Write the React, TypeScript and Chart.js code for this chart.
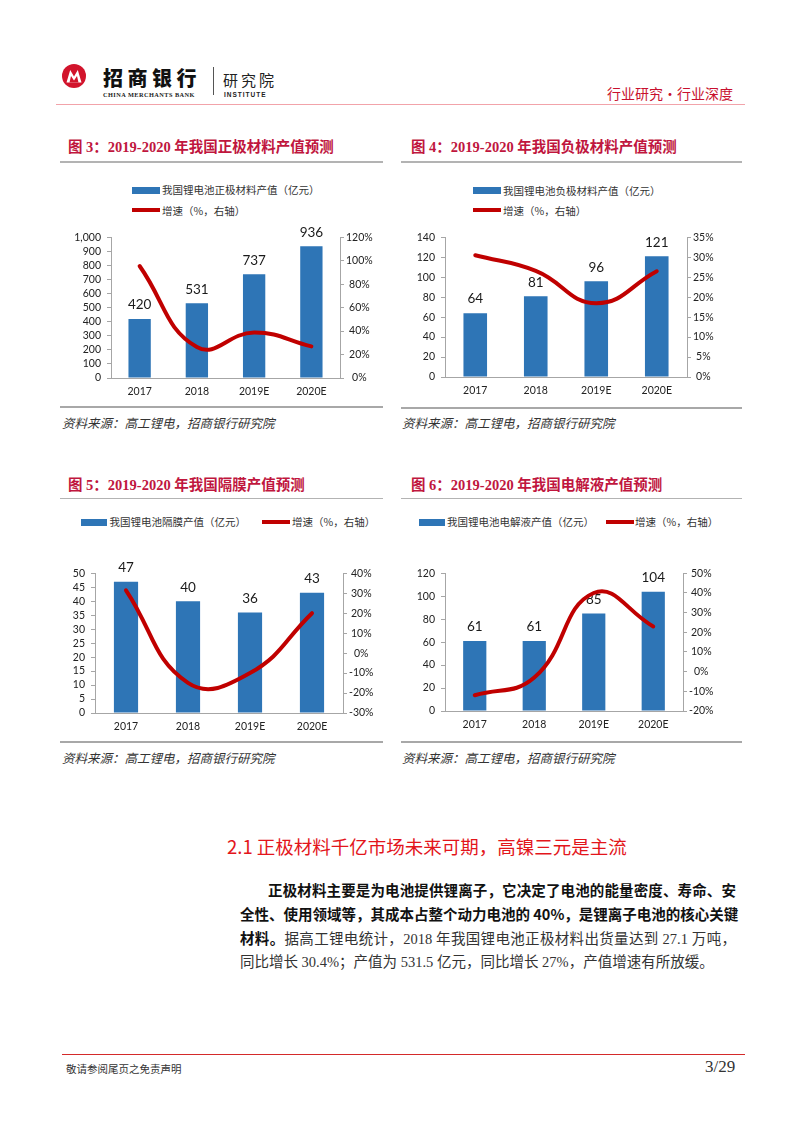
import React, { useEffect, useRef } from 'react';
import { Chart, registerables } from 'chart.js';

Chart.register(...registerables);

// ---------- data ----------
const years = ['2017', '2018', '2019E', '2020E'];

const cathodeValue = [420, 531, 737, 936];
const cathodeGrowth = [95.5, 26.4, 38.8, 27.0];
const anodeValue = [64, 81, 96, 121];
const anodeGrowth = [30.5, 26.6, 18.5, 26.5];
const separatorValue = [47, 40, 36, 43];
const separatorGrowth = [31.5, -14.9, -10.0, 20.0];
const electrolyteValue = [61, 61, 85, 104];
const electrolyteGrowth = [-12.0, -3.0, 40.0, 23.0];

// axis ranges: [min, max, step]
const cathodeLeftAxis = [0, 1000, 100];
const cathodeRightAxis = [0, 120, 20];
const anodeLeftAxis = [0, 140, 20];
const anodeRightAxis = [0, 35, 5];
const separatorLeftAxis = [0, 50, 5];
const separatorRightAxis = [-30, 40, 10];
const electrolyteLeftAxis = [0, 120, 20];
const electrolyteRightAxis = [-20, 50, 10];

const BLUE = '#2e75b6';
const RED_LINE = '#c00000';
const AXIS = '#a6a6a6';
const TICK_FONT = { family: 'Lato', size: 10.5 };

const barLabelPlugin = {
  id: 'barLabels',
  afterDatasetDraw(chart: any, args: any) {
    if (args.index !== 0) return;
    const ctx = chart.ctx;
    const ds = chart.data.datasets[0];
    ctx.save();
    ctx.font = '13.5px Lato';
    ctx.fillStyle = '#1a1a1a';
    ctx.textAlign = 'center';
    ctx.textBaseline = 'middle';
    args.meta.data.forEach((el: any, i: number) => {
      ctx.fillText(String(ds.data[i]), el.x, el.y - 14);
    });
    ctx.restore();
  },
};

type Box = { left: number; top: number; width: number; height: number; leftW: number; rightW: number; padTop: number; xH: number };

function ComboChart(props: { values: number[]; growth: number[]; leftAxis: number[]; rightAxis: number[]; box: Box; thousands?: boolean }) {
  const ref = useRef<HTMLCanvasElement | null>(null);
  const { values, growth, leftAxis, rightAxis, box, thousands } = props;
  useEffect(() => {
    if (!ref.current) return;
    const chart = new Chart(ref.current, {
      type: 'bar',
      data: {
        labels: years,
        datasets: [
          {
            type: 'bar',
            data: values,
            backgroundColor: BLUE,
            barPercentage: 0.39,
            categoryPercentage: 1,
            yAxisID: 'y',
            order: 2,
          } as any,
          {
            type: 'line',
            data: growth,
            borderColor: RED_LINE,
            borderWidth: 4,
            pointRadius: 0,
            tension: 0.45,
            yAxisID: 'y1',
            order: 1,
            borderCapStyle: 'round',
            clip: false,
          } as any,
        ],
      },
      options: {
        responsive: false,
        maintainAspectRatio: false,
        animation: false,
        devicePixelRatio: 1,
        layout: { padding: { top: box.padTop, left: 0, right: 0, bottom: 0 } },
        plugins: { legend: { display: false }, tooltip: { enabled: false } },
        scales: {
          x: {
            offset: true,
            grid: { display: false, drawTicks: false },
            border: { display: true, color: AXIS, width: 1 },
            ticks: { padding: 7, color: '#222', font: TICK_FONT, autoSkip: false, maxRotation: 0 },
            afterFit: (s: any) => { s.height = box.xH; },
          },
          y: {
            position: 'left',
            min: leftAxis[0],
            max: leftAxis[1],
            grid: { drawOnChartArea: false, drawTicks: true, tickLength: 4, color: AXIS },
            border: { display: true, color: AXIS, width: 1 },
            ticks: {
              stepSize: leftAxis[2],
              padding: 6,
              autoSkip: false,
              color: '#222',
              font: TICK_FONT,
              callback: (v: any) => (thousands ? Number(v).toLocaleString('en-US') : String(v)),
            },
            afterFit: (s: any) => { s.width = box.leftW; },
          },
          y1: {
            position: 'right',
            min: rightAxis[0],
            max: rightAxis[1],
            grid: { drawOnChartArea: false, drawTicks: true, tickLength: 4, color: AXIS },
            border: { display: true, color: AXIS, width: 1 },
            ticks: {
              stepSize: rightAxis[2],
              padding: 2,
              autoSkip: false,
              crossAlign: 'center',
              color: '#222',
              font: TICK_FONT,
              callback: (v: any) => v + '%',
            },
            afterFit: (s: any) => { s.width = box.rightW; },
          },
        },
      } as any,
      plugins: [barLabelPlugin],
    });
    return () => chart.destroy();
  }, []);
  return (
    <canvas
      ref={ref}
      width={box.width}
      height={box.height}
      style={{ position: 'absolute', left: box.left, top: box.top, width: box.width, height: box.height }}
    />
  );
}

const CJK_SANS = '"Noto Sans CJK SC", "Noto Sans", sans-serif';
const SERIF_CJK = '"Liberation Serif", "Noto Sans CJK SC", serif';

function T(p: { x: number; y: number; size: number; lh?: number; children: any; style?: any }) {
  const lh = p.lh ?? Math.round(p.size * 1.4);
  return (
    <div
      style={{
        position: 'absolute',
        left: p.x,
        top: p.y - lh / 2,
        fontSize: p.size,
        lineHeight: lh + 'px',
        whiteSpace: 'nowrap',
        fontFamily: CJK_SANS,
        ...p.style,
      }}
    >
      {p.children}
    </div>
  );
}

function Rect(p: { x: number; y: number; w: number; h: number; c: string }) {
  return <div style={{ position: 'absolute', left: p.x, top: p.y, width: p.w, height: p.h, background: p.c }} />;
}

const TITLE_COLOR = '#c0163e';

function Panel(p: {
  colX: number; colW: number; titleX: number; titleY: number; title: string;
  titleLineY: number; bottomLineY: number; sourceX: number; sourceY: number;
}) {
  return (
    <>
      <T x={p.titleX} y={p.titleY} size={14.5} style={{ fontFamily: SERIF_CJK, fontWeight: 700, color: TITLE_COLOR }}>
        {p.title}
      </T>
      <Rect x={p.colX} y={p.titleLineY} w={p.colW} h={1.5} c="#b3b3b3" />
      <Rect x={p.colX} y={p.bottomLineY} w={p.colW} h={1.5} c="#a8a8a8" />
      <T x={p.sourceX} y={p.sourceY} size={12.5} style={{ fontStyle: 'italic', color: '#333' }}>
        资料来源：高工锂电，招商银行研究院
      </T>
    </>
  );
}

const legendTextStyle = { color: '#333' };

export default function App() {
  useEffect(() => {
    document.body.style.margin = '0';
  }, []);
  return (
    <div style={{ position: 'absolute', left: 0, top: 0, width: 802, height: 1133, background: '#fff', overflow: 'hidden' }}>
      {/* header */}
      <svg style={{ position: 'absolute', left: 62, top: 64 }} width={24} height={24} viewBox="0 0 24 24">
        <circle cx={12} cy={12} r={12} fill="#d2142c" />
        <path d="M4.5 18.5 L8.2 6 L12 12.5 L15.8 6 L19.5 18.5 Z" fill="#fff" />
        <path d="M7.5 18.5 L9 12 L12 16.5 L15 12 L16.5 18.5 Z" fill="#d2142c" />
      </svg>
      <T x={103} y={78} size={20} lh={26} style={{ fontWeight: 900, letterSpacing: 4.5, color: '#111' }}>招商银行</T>
      <T x={103} y={94.7} size={6.3} lh={8} style={{ fontFamily: '"Liberation Serif", serif', fontWeight: 700, letterSpacing: 0.45, color: '#222' }}>
        CHINA MERCHANTS BANK
      </T>
      <Rect x={213} y={67} w={1} h={28} c="#555" />
      <T x={223} y={80} size={15} lh={20} style={{ letterSpacing: 3, color: '#222' }}>研究院</T>
      <T x={224} y={94.7} size={6.5} lh={8} style={{ fontFamily: '"Liberation Sans", sans-serif', fontWeight: 700, letterSpacing: 1.0, color: '#222' }}>
        INSTITUTE
      </T>
      <T x={607} y={92.5} size={14} lh={20} style={{ color: '#c8102e' }}>行业研究·行业深度</T>
      <Rect x={56} y={103.5} w={689} h={1.5} c="#f2a3aa" />

      {/* Figure 3 */}
      <Panel colX={60} colW={323} titleX={68} titleY={146.7} title="图 3：2019-2020 年我国正极材料产值预测"
        titleLineY={161} bottomLineY={406} sourceX={62} sourceY={423.3} />
      <Rect x={132} y={186.5} w={28} h={7} c={BLUE} />
      <T x={162} y={189.5} size={10.5} style={legendTextStyle}>我国锂电池正极材料产值（亿元）</T>
      <Rect x={132} y={208} w={28} h={4} c={RED_LINE} />
      <T x={162} y={210} size={10.5} style={legendTextStyle}>增速（%，右轴）</T>
      <ComboChart values={cathodeValue} growth={cathodeGrowth} leftAxis={cathodeLeftAxis} rightAxis={cathodeRightAxis} thousands
        box={{ left: 60, top: 225, width: 330, height: 180, leftW: 51, rightW: 50, padTop: 8, xH: 27 }} />

      {/* Figure 4 */}
      <Panel colX={401} colW={341} titleX={411} titleY={146.7} title="图 4：2019-2020 年我国负极材料产值预测"
        titleLineY={161} bottomLineY={407} sourceX={402} sourceY={423.3} />
      <Rect x={473} y={186.5} w={28} h={7} c={BLUE} />
      <T x={503} y={190} size={10.5} style={legendTextStyle}>我国锂电池负极材料产值（亿元）</T>
      <Rect x={473} y={208} w={28} h={4} c={RED_LINE} />
      <T x={503} y={210} size={10.5} style={legendTextStyle}>增速（%，右轴）</T>
      <ComboChart values={anodeValue} growth={anodeGrowth} leftAxis={anodeLeftAxis} rightAxis={anodeRightAxis}
        box={{ left: 400, top: 225, width: 340, height: 180, leftW: 45, rightW: 53, padTop: 9, xH: 28 }} />

      {/* Figure 5 */}
      <Panel colX={60} colW={323} titleX={68} titleY={485} title="图 5：2019-2020 年我国隔膜产值预测"
        titleLineY={497.5} bottomLineY={741} sourceX={62} sourceY={758.3} />
      <Rect x={81} y={518.5} w={26} h={7} c={BLUE} />
      <T x={109.5} y={521.7} size={10.5} style={legendTextStyle}>我国锂电池隔膜产值（亿元）</T>
      <Rect x={262} y={520} w={28} h={4} c={RED_LINE} />
      <T x={292} y={521.7} size={10.5} style={legendTextStyle}>增速（%，右轴）</T>
      <ComboChart values={separatorValue} growth={separatorGrowth} leftAxis={separatorLeftAxis} rightAxis={separatorRightAxis}
        box={{ left: 60, top: 561, width: 330, height: 180, leftW: 35, rightW: 47, padTop: 8, xH: 28 }} />

      {/* Figure 6 */}
      <Panel colX={401} colW={341} titleX={411} titleY={485} title="图 6：2019-2020 年我国电解液产值预测"
        titleLineY={497.5} bottomLineY={741} sourceX={402} sourceY={758.3} />
      <Rect x={418.5} y={518.5} w={26} h={7} c={BLUE} />
      <T x={447} y={521.7} size={10.5} style={legendTextStyle}>我国锂电池电解液产值（亿元）</T>
      <Rect x={606} y={520} w={28} h={4} c={RED_LINE} />
      <T x={635} y={521.7} size={10.5} style={legendTextStyle}>增速（%，右轴）</T>
      <ComboChart values={electrolyteValue} growth={electrolyteGrowth} leftAxis={electrolyteLeftAxis} rightAxis={electrolyteRightAxis}
        box={{ left: 400, top: 561, width: 340, height: 180, leftW: 45, rightW: 57, padTop: 8, xH: 30 }} />

      {/* section heading */}
      <T x={227} y={846} size={18.5} lh={26} style={{ color: '#e3151b' }}>2.1 正极材料千亿市场未来可期，高镍三元是主流</T>

      {/* paragraph */}
      {[
        { y: 889.5, x: 268, w: 468, justify: true, bold: '正极材料主要是为电池提供锂离子，它决定了电池的能量密度、寿命、安', rest: '' },
        { y: 913.5, x: 240, w: 496, justify: true, bold: '全性、使用领域等，其成本占整个动力电池的 40%，是锂离子电池的核心关键', rest: '' },
        { y: 937.5, x: 240, w: 496, justify: true, bold: '材料。', rest: '据高工锂电统计，2018 年我国锂电池正极材料出货量达到 27.1 万吨，' },
        { y: 961.5, x: 240, w: 496, justify: false, bold: '', rest: '同比增长 30.4%；产值为 531.5 亿元，同比增长 27%，产值增速有所放缓。' },
      ].map((ln, i) => (
        <div
          key={i}
          style={{
            position: 'absolute',
            left: ln.x,
            top: ln.y - 12,
            width: ln.w,
            fontSize: 14.5,
            lineHeight: '24px',
            whiteSpace: 'nowrap',
            textAlign: ln.justify ? 'justify' : 'left',
            textAlignLast: ln.justify ? 'justify' : 'left',
            textJustify: 'inter-character',
          } as any}
        >
          {ln.bold ? (
            <span style={{ fontFamily: CJK_SANS, fontWeight: 700, color: '#111' }}>{ln.bold}</span>
          ) : null}
          {ln.rest ? <span style={{ fontFamily: SERIF_CJK, fontWeight: 400, color: '#333' }}>{ln.rest}</span> : null}
        </div>
      ))}

      {/* footer */}
      <Rect x={62} y={1053.5} w={683} h={1.5} c="#d42a2a" />
      <T x={66} y={1069.3} size={10.5} style={{ color: '#333', fontFamily: SERIF_CJK }}>敬请参阅尾页之免责声明</T>
      <T x={705} y={1067} size={17} lh={22} style={{ color: '#333', fontFamily: '"Liberation Serif", serif' }}>3/29</T>
    </div>
  );
}
